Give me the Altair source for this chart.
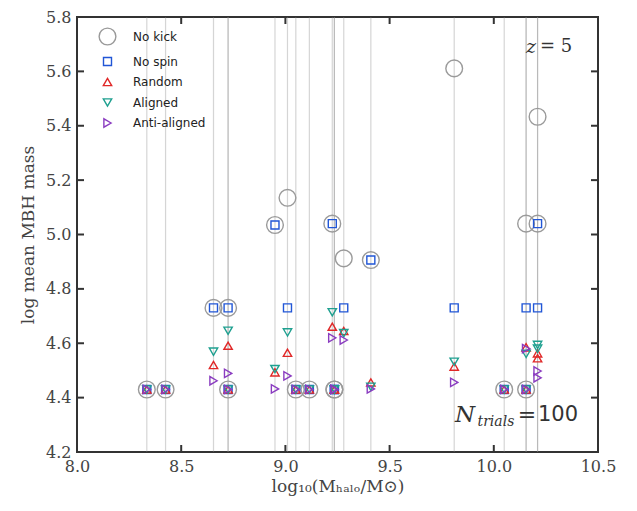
import altair as alt
import pandas as pd

# ---- data ----
halo_x  = [8.335, 8.425, 8.655, 8.725, 8.725, 8.95, 9.01, 9.05, 9.115, 9.225, 9.235, 9.235,
           9.28, 9.41, 9.81, 10.05, 10.155, 10.155, 10.21, 10.21]
no_kick = [4.43, 4.43, 4.73, 4.73, 4.43, 5.035, 5.135, 4.43, 4.43, 5.04, 4.43, 4.43,
           4.912, 4.906, 5.611, 4.43, 5.04, 4.43, 5.433, 5.04]
no_spin = [4.43, 4.43, 4.73, 4.73, 4.43, 5.035, 4.73, 4.43, 4.43, 5.04, 4.43, 4.43,
           4.73, 4.906, 4.73, 4.43, 4.73, 4.43, 4.73, 5.04]
random_ = [4.43, 4.43, 4.52, 4.591, 4.43, 4.493, 4.565, 4.43, 4.43, 4.661, 4.43, 4.43,
           4.645, 4.456, 4.514, 4.43, 4.585, 4.43, 4.563, 4.545]
aligned = [4.43, 4.43, 4.569, 4.646, 4.43, 4.505, 4.64, 4.43, 4.43, 4.714, 4.43, 4.43,
           4.637, 4.44, 4.532, 4.43, 4.561, 4.43, 4.594, 4.58]
anti    = [4.43, 4.43, 4.462, 4.489, 4.43, 4.432, 4.48, 4.43, 4.43, 4.62, 4.43, 4.43,
           4.612, 4.432, 4.456, 4.43, 4.58, 4.43, 4.498, 4.473]

series_names = ["No kick", "No spin", "Random", "Aligned", "Anti-aligned"]
series_vals = [no_kick, no_spin, random_, aligned, anti]
series_colors = ["#9a9a9a", "#2156d6", "#e02828", "#1fa090", "#8a3cc0"]
series_shapes = ["circle", "square", "triangle-up", "triangle-down", "triangle-right"]
series_sizes = [280, 64, 70, 70, 70]

x_ticks = [8.5, 9.0, 9.5, 10.0]
y_ticks = [4.4, 4.6, 4.8, 5.0, 5.2, 5.4, 5.6]

rows = []
for i, (name, vals) in enumerate(zip(series_names, series_vals)):
    for hx, v in zip(halo_x, vals):
        rows.append({"x": hx, "y": v, "series": name, "ord": i})
df = pd.DataFrame(rows)

W, H = 521, 435
SERIF = "DejaVu Serif"

xscale = alt.Scale(domain=[8.0, 10.5], nice=False, zero=False)
yscale = alt.Scale(domain=[4.2, 5.8], nice=False, zero=False)

xaxis = alt.Axis(values=[8.0, 8.5, 9.0, 9.5, 10.0, 10.5], format=".1f", ticks=False, domain=False,
                 grid=False, labelFont=SERIF, labelFontSize=16, labelColor="#444",
                 labelPadding=6, labelFlush=False,
                 title="log₁₀(Mₕₐₗₒ/M⊙)", titleFont=SERIF, titleFontSize=17,
                 titleFontWeight="normal", titleColor="#444", titlePadding=4)
yaxis = alt.Axis(values=[4.2, 4.4, 4.6, 4.8, 5.0, 5.2, 5.4, 5.6, 5.8], format=".1f", ticks=False,
                 domain=False, grid=False, labelFont=SERIF, labelFontSize=16, labelColor="#444",
                 labelPadding=6, labelFlush=False,
                 title="log mean MBH mass", titleFont=SERIF, titleFontSize=17,
                 titleFontWeight="normal", titleColor="#444", titlePadding=8)

vlines = alt.Chart(pd.DataFrame({"x": halo_x})).mark_rule(
    color="#888", opacity=0.35, strokeWidth=1.2
).encode(x=alt.X("x:Q", scale=xscale, axis=xaxis), y=alt.value(0), y2=alt.value(H))

points = alt.Chart(df).mark_point(filled=False, strokeWidth=1.4, opacity=1).encode(
    x=alt.X("x:Q", scale=xscale, axis=xaxis),
    y=alt.Y("y:Q", scale=yscale, axis=yaxis),
    color=alt.Color("series:N", scale=alt.Scale(domain=series_names, range=series_colors),
                    legend=alt.Legend(title=None, orient="none", legendX=21, legendY=10,
                                      labelFont="DejaVu Sans", labelFontSize=12,
                                      labelColor="#222", symbolStrokeWidth=1.4,
                                      rowPadding=6.5, labelOffset=16)),
    shape=alt.Shape("series:N", scale=alt.Scale(domain=series_names, range=series_shapes)),
    size=alt.Size("series:N", scale=alt.Scale(type="ordinal", domain=series_names,
                                              range=series_sizes)),
    order=alt.Order("ord:Q"),
)

tick_style = dict(color="#333", strokeWidth=2)
xt = pd.DataFrame({"x": x_ticks})
yt = pd.DataFrame({"y": y_ticks})
tb = alt.Chart(xt).mark_rule(**tick_style).encode(x=alt.X("x:Q", scale=xscale, axis=xaxis),
                                                   y=alt.value(H), y2=alt.value(H - 7))
tt = alt.Chart(xt).mark_rule(**tick_style).encode(x=alt.X("x:Q", scale=xscale, axis=xaxis),
                                                   y=alt.value(0), y2=alt.value(7))
tl = alt.Chart(yt).mark_rule(**tick_style).encode(y=alt.Y("y:Q", scale=yscale, axis=yaxis),
                                                   x=alt.value(0), x2=alt.value(7))
tr = alt.Chart(yt).mark_rule(**tick_style).encode(y=alt.Y("y:Q", scale=yscale, axis=yaxis),
                                                   x=alt.value(W), x2=alt.value(W - 7))

ann = pd.DataFrame({
    "x": [10.154, 10.222, 9.814, 9.922, 10.115, 10.212],
    "y": [5.688, 5.688, 4.336, 4.309, 4.336, 4.336],
    "t": ["z", "= 5", "N", "trials", "=", "100"],
    "font": [SERIF, SERIF, SERIF, SERIF, SERIF, "DejaVu Sans"],
    "style": ["italic", "normal", "italic", "italic", "normal", "normal"],
    "fs": [19, 18, 23, 14, 22, 21],
})
texts = []
for _, r in ann.iterrows():
    texts.append(alt.Chart(pd.DataFrame([r])).mark_text(
        align="left", baseline="middle", font=r["font"], fontStyle=r["style"],
        fontSize=int(r["fs"]), color="#333"
    ).encode(x=alt.X("x:Q", scale=xscale, axis=xaxis), y=alt.Y("y:Q", scale=yscale, axis=yaxis),
             text="t:N"))

chart = alt.layer(vlines, points, tb, tt, tl, tr, *texts).properties(
    width=W, height=H,
    autosize=alt.AutoSizeParams(type="none"),
    padding={"left": 77, "top": 17, "right": 39, "bottom": 59},
    background="white",
).configure_view(stroke="#333", strokeWidth=2)

chart.save("out.html", embed_options={"renderer": "svg", "actions": False})
